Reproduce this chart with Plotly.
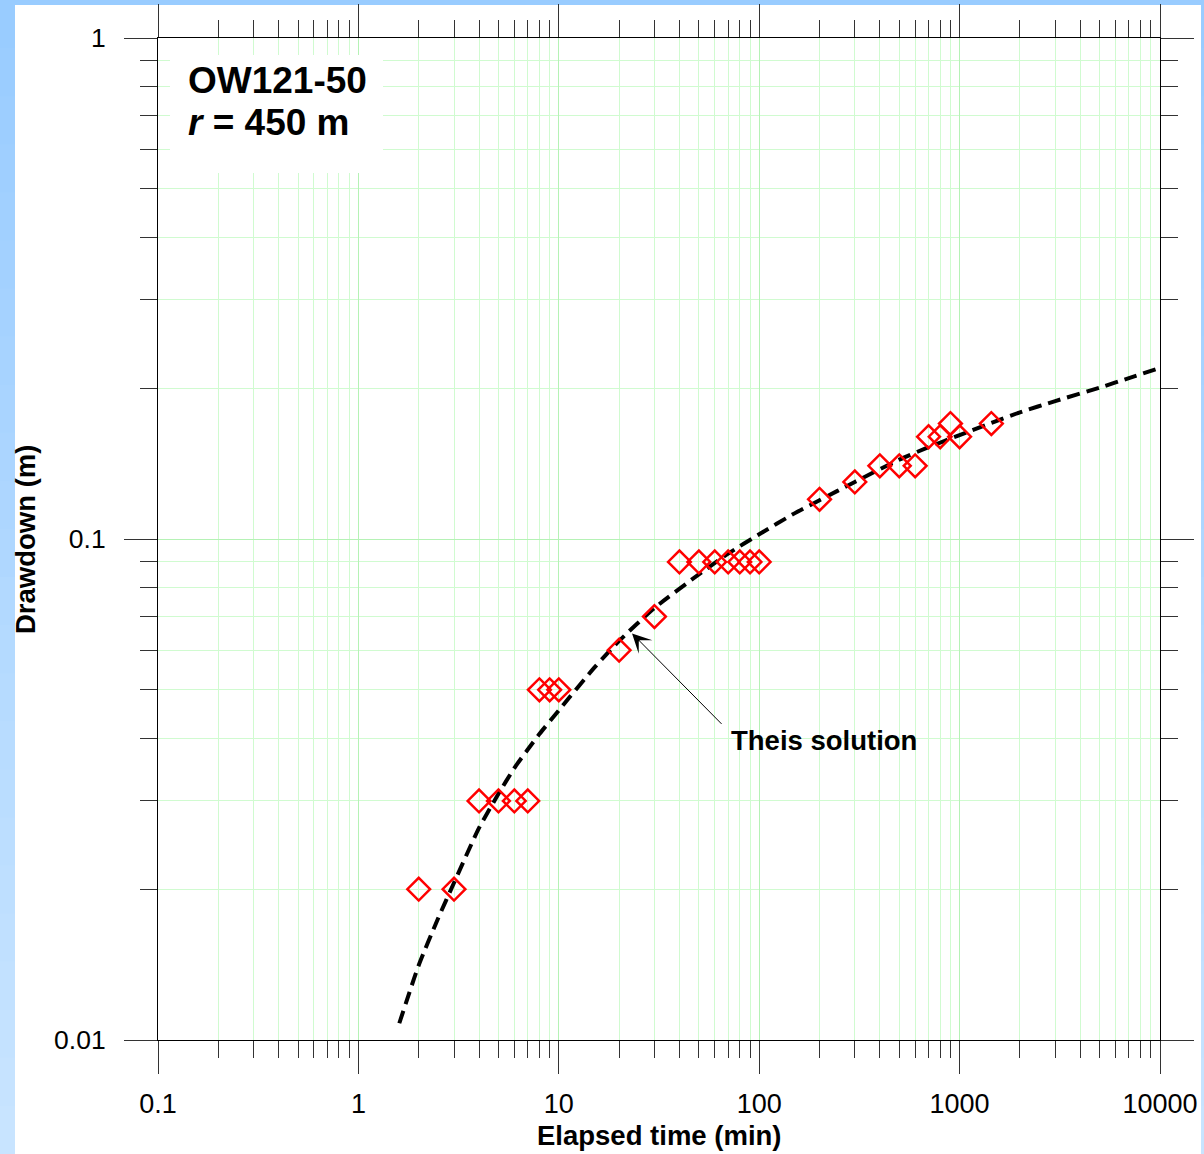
import math
import plotly.graph_objects as go

# ---------------- data ----------------
obs_time = [2, 3, 4, 5, 6, 7, 8, 9, 10, 20, 30, 40, 50, 60, 70, 80, 90, 100,
            200, 300, 400, 500, 600, 700, 800, 900, 1000, 1440]
obs_drawdown = [0.02, 0.02, 0.03, 0.03, 0.03, 0.03, 0.05, 0.05, 0.05, 0.06, 0.07,
                0.09, 0.09, 0.09, 0.09, 0.09, 0.09, 0.09,
                0.12, 0.13, 0.14, 0.14, 0.14, 0.16, 0.16, 0.17, 0.16, 0.17]

theis_time = [1.6, 2, 2.5, 3, 4, 5, 6, 7, 8, 10, 15, 20, 30, 50, 70, 100, 150,
              200, 300, 500, 700, 1000, 1500, 2000, 3000, 5000, 7000, 10000]
theis_drawdown = [0.0108, 0.0141, 0.0175, 0.0206, 0.0265, 0.0310, 0.0349, 0.0380,
                  0.0408, 0.0455, 0.0553, 0.0626, 0.0728, 0.0850, 0.0935, 0.1022,
                  0.1125, 0.1195, 0.1300, 0.1440, 0.1525, 0.1612, 0.1715, 0.1790,
                  0.1885, 0.2005, 0.2095, 0.2195]

x_tick_vals = [0.1, 1, 10, 100, 1000, 10000]
x_tick_text = ["0.1", "1", "10", "100", "1000", "10000"]
y_tick_vals = [0.01, 0.1, 1]
y_tick_text = ["0.01", "0.1", "1"]
x_minor_vals = [m * 10 ** k for k in range(-1, 4) for m in range(2, 10)]
y_minor_vals = [m * 10 ** k for k in range(-2, 0) for m in range(2, 10)]

well_name = "OW121-50"
radius_text = "<i>r</i> = 450 m"
curve_label = "Theis solution"
arrow_target_time = 23.2
arrow_target_drawdown = 0.0648
x_title = "Elapsed time (min)"
y_title = "Drawdown (m)"

# ---------------- layout geometry ----------------
W, H = 1204, 1154
ML, MR, MT, MB = 158, 44, 38, 114
PW = W - ML - MR
PH = H - MT - MB


def px2x(px):
    return (px - ML) / PW


def py2y(py):
    return (H - MB - py) / PH


FONT = "Arial, 'Liberation Sans', Helvetica, sans-serif"
TICKC = "#333333"
GRID_MAJOR = "#b5f2b5"
GRID_MINOR = "#d0fbd0"

fig = go.Figure()

fig.add_trace(go.Scatter(
    x=theis_time, y=theis_drawdown, mode="lines",
    line=dict(color="black", width=4, dash="13px,7px", shape="spline", smoothing=0.6),
    hoverinfo="skip", showlegend=False,
))
fig.add_trace(go.Scatter(
    x=obs_time, y=obs_drawdown, mode="markers",
    marker=dict(symbol="diamond-open", size=17.5, color="#ff0000",
                line=dict(width=2.5, color="#ff0000")),
    showlegend=False,
))

# ---------------- background (blue gradient frame + white panel) ----------------
shapes = []
n_bands = 24
c0 = (153, 204, 255)
c1 = (200, 228, 255)
for i in range(n_bands):
    f = i / (n_bands - 1)
    col = "rgb(%d,%d,%d)" % tuple(round(a + (b - a) * f) for a, b in zip(c0, c1))
    shapes.append(dict(type="rect", xref="paper", yref="paper", layer="below",
                       x0=px2x(0), x1=px2x(W), y0=py2y(H * (i + 1) / n_bands + 1),
                       y1=py2y(H * i / n_bands), fillcolor=col, line=dict(width=0)))
shapes.append(dict(type="rect", xref="paper", yref="paper", layer="below",
                   x0=px2x(15), x1=px2x(1201), y0=py2y(H + 2), y1=py2y(5),
                   fillcolor="white", line=dict(width=0)))
# white box behind the well label
shapes.append(dict(type="rect", xref="paper", yref="paper", layer="above",
                   x0=px2x(170), x1=px2x(383), y0=py2y(173), y1=py2y(55),
                   fillcolor="white", line=dict(width=0)))

annotations = [
    dict(text="<b>%s</b>" % well_name, xref="paper", yref="paper",
         x=px2x(186), y=py2y(80), xanchor="left", yanchor="middle", showarrow=False,
         font=dict(family=FONT, size=37, color="black")),
    dict(text="<b>%s</b>" % radius_text, xref="paper", yref="paper",
         x=px2x(186), y=py2y(122), xanchor="left", yanchor="middle", showarrow=False,
         font=dict(family=FONT, size=37, color="black")),
    dict(text="<b>%s</b>" % curve_label, xref="paper", yref="paper",
         x=px2x(729), y=py2y(740), xanchor="left", yanchor="middle", showarrow=False,
         font=dict(family=FONT, size=27.5, color="black")),
    dict(text="", xref="x", yref="y",
         x=math.log10(arrow_target_time), y=math.log10(arrow_target_drawdown),
         ax=91, ay=92, showarrow=True, arrowhead=3, arrowsize=3.2, arrowwidth=1,
         arrowcolor="black"),
    dict(text="<b>%s</b>" % x_title, xref="paper", yref="paper",
         x=px2x(659.5), y=py2y(1135), xanchor="center", yanchor="middle", showarrow=False,
         font=dict(family=FONT, size=27.5, color="black")),
    dict(text="<b>%s</b>" % y_title, xref="paper", yref="paper",
         x=px2x(25), y=py2y(540), xanchor="center", yanchor="middle", showarrow=False,
         textangle=-90, font=dict(family=FONT, size=27.5, color="black")),
]

axis_common = dict(
    type="log", ticks="outside", ticklen=33, tickwidth=1, tickcolor=TICKC,
    showline=True, linecolor="black", linewidth=1, mirror="ticks",
    showgrid=True, gridcolor=GRID_MAJOR, gridwidth=1, zeroline=False,
    automargin=False,
)

fig.update_layout(
    width=W, height=H,
    margin=dict(l=ML, r=MR, t=MT, b=MB, pad=0, autoexpand=False),
    paper_bgcolor="rgb(153,204,255)", plot_bgcolor="white",
    font=dict(family=FONT, color="black"),
    shapes=shapes, annotations=annotations,
    xaxis=dict(
        **axis_common, range=[-1, 4],
        tickvals=x_tick_vals, ticktext=x_tick_text,
        tickfont=dict(family=FONT, size=27, color="black"),
        ticklabelstandoff=7,
        minor=dict(tickvals=x_minor_vals, ticks="outside", ticklen=17, tickwidth=1,
                   tickcolor=TICKC, showgrid=True, gridcolor=GRID_MINOR, gridwidth=1),
    ),
    yaxis=dict(
        **axis_common, range=[-2, 0],
        tickvals=y_tick_vals, ticktext=y_tick_text,
        tickfont=dict(family=FONT, size=26.5, color="black"),
        ticklabelstandoff=13,
        minor=dict(tickvals=y_minor_vals, ticks="outside", ticklen=17, tickwidth=1,
                   tickcolor=TICKC, showgrid=True, gridcolor=GRID_MINOR, gridwidth=1),
    ),
)

fig.write_html("out.html")
